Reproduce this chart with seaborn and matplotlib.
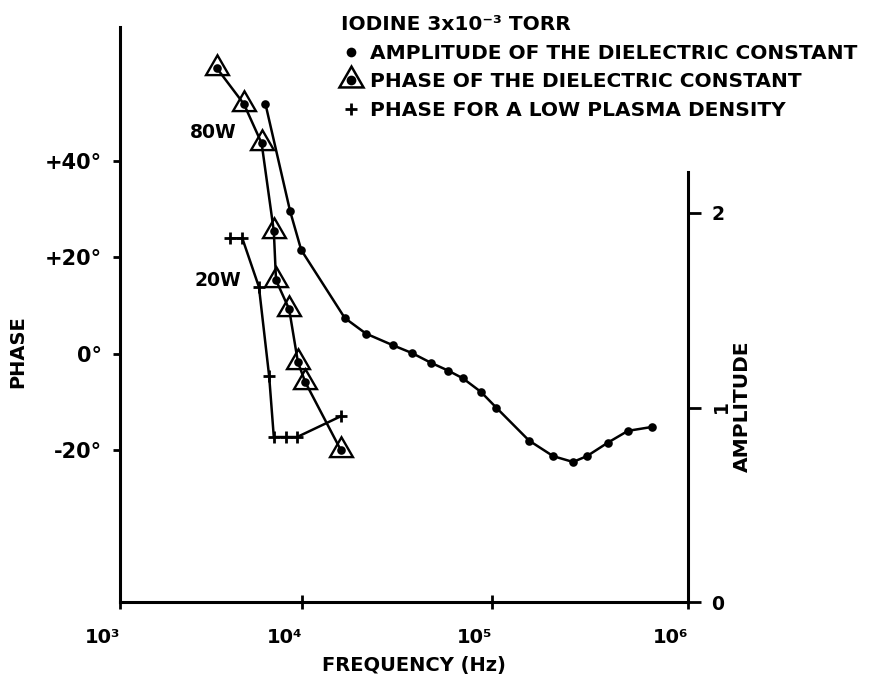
import numpy as np
import pandas as pd
import matplotlib
matplotlib.use("Agg")
import matplotlib.pyplot as plt
import seaborn as sns
from matplotlib.lines import Line2D

# ---- data -------------------------------------------------------------
# amplitude of the dielectric constant (right axis)
amp_freq = [6300, 8600, 9900, 16800, 21700, 30100, 37900, 47700, 58700, 70300,
            87500, 105000, 154500, 205000, 259000, 305000, 391000, 494000, 655000]
amp_value = [2.56, 2.01, 1.81, 1.46, 1.38, 1.32, 1.28, 1.23, 1.19, 1.15,
             1.08, 1.00, 0.83, 0.75, 0.72, 0.75, 0.82, 0.88, 0.90]

# phase of the dielectric constant, 80 W (left axis, degrees)
phase_freq = [3400, 4800, 6000, 7000, 7200, 8500, 9500, 10400, 16000]
phase_deg = [59.2, 51.7, 43.6, 25.4, 15.2, 9.2, -1.8, -5.9, -20.0]

# phase for a low plasma density, 20 W (left axis, degrees)
low_freq = [4000, 4700, 5800, 6600, 7000, 8200, 9400, 16000]
low_deg = [23.9, 23.9, 13.8, -4.7, -17.3, -17.3, -17.3, -13.0]

phase_ticks = [-20, 0, 20, 40]
phase_tick_labels = ["-20°", "0°", "+20°", "+40°"]
amp_ticks = [0, 1, 2]
amp_tick_labels = ["0", "1", "2"]
freq_ticks = [1e3, 1e4, 1e5, 1e6]
freq_tick_labels = ["10³", "10⁴", "10⁵", "10⁶"]

legend_title = "IODINE 3x10⁻³ TORR"
legend_labels = ["AMPLITUDE OF THE DIELECTRIC CONSTANT",
                 "PHASE OF THE DIELECTRIC CONSTANT",
                 "PHASE FOR A LOW PLASMA DENSITY"]

amp_df = pd.DataFrame({"freq": amp_freq, "amp": amp_value})
phase_df = pd.DataFrame({"freq": phase_freq, "phase": phase_deg})
low_df = pd.DataFrame({"freq": low_freq, "phase": low_deg})

# ---- frequency axis with uneven decade widths --------------------------
LOG_STOPS = np.array([3.0, 4.0, 5.0, 6.0])
PX_STOPS = np.array([0.0, 182.0, 372.0, 568.0])


def freq_to_axis(f):
    lf = np.log10(np.maximum(np.asarray(f, dtype=float), 1e-12))
    out = np.interp(lf, LOG_STOPS, PX_STOPS)
    out = np.where(lf < 3, (lf - 3) * 182.0, out)
    out = np.where(lf > 6, 568.0 + (lf - 6) * 196.0, out)
    return out


def axis_to_freq(p):
    p = np.asarray(p, dtype=float)
    lf = np.interp(p, PX_STOPS, LOG_STOPS)
    lf = np.where(p < 0, 3 + p / 182.0, lf)
    lf = np.where(p > 568, 6 + (p - 568.0) / 196.0, lf)
    return 10 ** lf


# ---- figure ------------------------------------------------------------
sns.set_theme(style="white")
plt.rcParams["font.family"] = ["DejaVu Sans"]
plt.rcParams["font.weight"] = "bold"
for key in ("text.color", "axes.labelcolor", "xtick.color", "ytick.color",
            "axes.edgecolor"):
    plt.rcParams[key] = "black"

W, H = 882, 679
fig = plt.figure(figsize=(W / 100, H / 100), dpi=100)
ax = fig.add_axes([120 / W, 77 / H, 568 / W, 575 / H])
ax.set_xscale("function", functions=(freq_to_axis, axis_to_freq))
ax2 = ax.twinx()

LW = 1.8
TRI = (3, 0, 0)  # regular triangle, centred on its centroid
DOT = 6.2

# phase of the dielectric constant: line + dots, open triangles around them
sns.lineplot(data=phase_df, x="freq", y="phase", ax=ax, color="black",
             lw=LW, marker="o", markersize=DOT, markeredgewidth=0,
             markeredgecolor="black", estimator=None, sort=False)
sns.lineplot(data=phase_df, x="freq", y="phase", ax=ax, color="black",
             ls="none", marker=TRI, markersize=19, markerfacecolor="none",
             markeredgecolor="black", markeredgewidth=1.7,
             estimator=None, sort=False, zorder=4)

# low plasma density phase
sns.lineplot(data=low_df, x="freq", y="phase", ax=ax, color="black",
             lw=LW, marker="+", markersize=9, markeredgewidth=2.0,
             markeredgecolor="black", estimator=None, sort=False)

# amplitude on the right-hand axis
sns.lineplot(data=amp_df, x="freq", y="amp", ax=ax2, color="black",
             lw=LW, marker="o", markersize=DOT, markeredgewidth=0,
             markeredgecolor="black", estimator=None, sort=False)

ax.set_xlim(1e3, 1e6)
ax.set_ylim(-51.5, 67.7)
ax2.set_ylim(0, 575 / 194.5)

for a in (ax, ax2):
    a.set_xlabel("")
    a.set_ylabel("")
    a.grid(False)
    a.set_facecolor("none")
    for s in a.spines.values():
        s.set_color("black")
        s.set_linewidth(2.2)

ax.spines["top"].set_visible(False)
ax.spines["right"].set_visible(False)
ax2.spines["top"].set_visible(False)
ax2.spines["left"].set_visible(False)
ax2.spines["bottom"].set_visible(False)
ax2.spines["right"].set_bounds(0, 2.21)

FS = 14.5
ax.set_xticks(freq_ticks, labels=freq_tick_labels)
ax.set_yticks(phase_ticks, labels=phase_tick_labels)
ax2.set_yticks(amp_ticks, labels=amp_tick_labels)
ax.xaxis.set_minor_locator(matplotlib.ticker.NullLocator())

ax.tick_params(axis="x", direction="inout", length=10, width=2, pad=14,
               labelsize=14, colors="black", bottom=True)
for lab in ax.get_xticklabels():
    lab.set_horizontalalignment("right")
ax.tick_params(axis="y", direction="out", length=5, width=2, pad=8,
               labelsize=15, colors="black", left=True)
ax2.tick_params(axis="y", direction="out", length=9, width=2, pad=8,
                labelsize=13.5, colors="black", right=True)
ax2.get_yticklabels()[1].set_rotation(90)

# axis titles
fig.text(414 / W, 1 - 665 / H, "FREQUENCY (Hz)", ha="center", va="center",
         fontsize=14)
fig.text(18 / W, 1 - 352 / H, "PHASE", ha="center", va="center",
         rotation=90, fontsize=14)
fig.text(742 / W, 1 - 406 / H, "AMPLITUDE", ha="center", va="center",
         rotation=90, fontsize=14.5)

# power annotations
ax.text(190 / W, 1 - 133 / H, "80W", transform=fig.transFigure,
        ha="left", va="center", fontsize=13.5)
ax.text(195 / W, 1 - 280 / H, "20W", transform=fig.transFigure,
        ha="left", va="center", fontsize=13.5)

# key
h_amp = Line2D([], [], ls="none", marker="o", color="black", ms=7, mew=0)
h_tri = (Line2D([], [], ls="none", marker=TRI, mfc="none", mec="black",
                ms=20, mew=1.8),
         Line2D([], [], ls="none", marker="o", color="black", ms=7, mew=0))
h_low = Line2D([], [], ls="none", marker="+", color="black", ms=9, mew=2)
ax.legend([h_amp, h_tri, h_low], legend_labels, title=legend_title,
          loc="upper left", bbox_to_anchor=(341 / W, 1 - 15 / H),
          bbox_transform=fig.transFigure, frameon=False, alignment="left",
          prop={"size": FS, "weight": "bold"},
          title_fontproperties={"size": FS, "weight": "bold"},
          handlelength=1.0, handletextpad=0.45, labelspacing=0.48,
          borderpad=0, borderaxespad=0)

fig.savefig("out.png", dpi=100)
